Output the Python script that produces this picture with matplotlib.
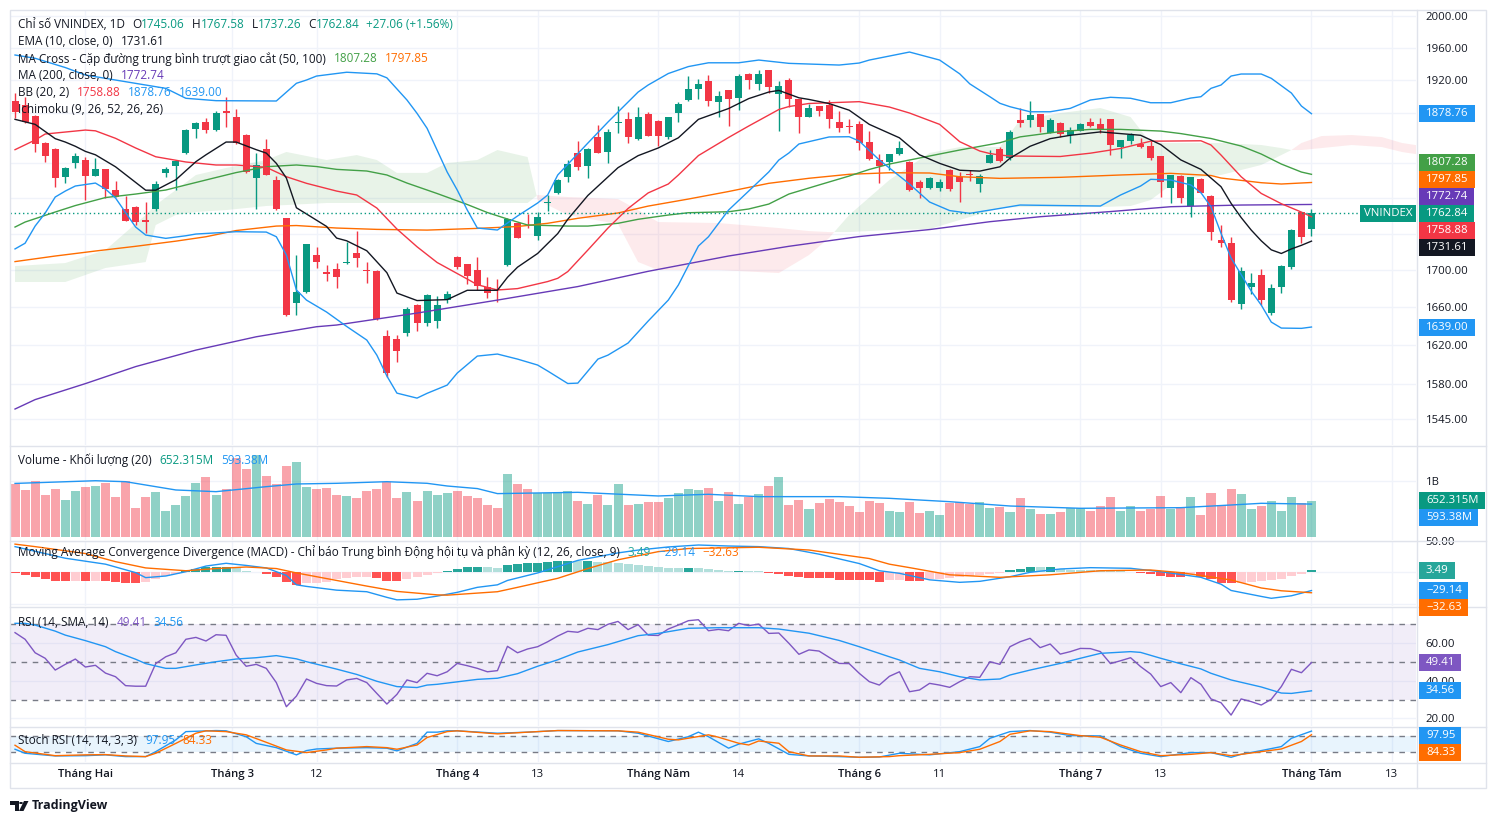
import numpy as np
import matplotlib
matplotlib.use("Agg")
import matplotlib.pyplot as plt
from matplotlib.patches import Rectangle, Polygon, Circle
from matplotlib.lines import Line2D
from matplotlib.ticker import NullLocator
from matplotlib.colors import to_rgba

plt.rcParams['font.family'] = ['Open Sans', 'DejaVu Sans']

W, H = 1496, 824

# ---------------- data ----------------
opens = [1894.4, 1889.2, 1876.0, 1844.2, 1836.8, 1804.1, 1820.7, 1823.9, 1805.6, 1813.4,
         1789.2, 1767.6, 1770.2, 1755.2, 1767.2, 1808.4, 1817.2, 1832.4, 1860.4, 1869.1,
         1859.2, 1882.0, 1875.1, 1853.3, 1802.6, 1836.8, 1800.7, 1757.1, 1664.0, 1675.8,
         1716.3, 1698.0, 1700.6, 1707.6, 1718.1, 1699.5, 1698.8, 1629.6, 1626.1, 1633.0,
         1662.2, 1643.5, 1645.6, 1667.5, 1714.4, 1706.4, 1699.9, 1681.1, 1679.3, 1705.3,
         1751.5, 1750.9, 1737.6, 1774.8, 1786.0, 1804.5, 1831.7, 1816.9, 1850.6, 1833.6,
         1868.0, 1872.0, 1848.6, 1878.4, 1870.0, 1850.6, 1880.0, 1895.3, 1908.5, 1918.4,
         1892.3, 1907.4, 1898.1, 1927.6, 1914.8, 1932.0, 1902.7, 1919.7, 1896.5, 1875.1,
         1888.0, 1889.2, 1869.1, 1863.5, 1866.4, 1845.4, 1823.9, 1821.2, 1830.9, 1821.9,
         1798.0, 1791.8, 1791.8, 1812.3, 1804.5, 1807.5, 1796.5, 1820.7, 1836.8, 1825.9,
         1871.2, 1871.2, 1878.4, 1856.0, 1867.2, 1853.3, 1858.3, 1868.4, 1866.4, 1872.4,
         1839.5, 1846.6, 1842.6, 1840.3, 1828.6, 1791.8, 1805.3, 1771.0, 1801.8, 1782.3,
         1732.8, 1729.1, 1663.3, 1681.8, 1694.4, 1653.4, 1681.8, 1703.5, 1763.8, 1745.06]
highs = [1903.8, 1898.6, 1877.0, 1845.0, 1838.0, 1815.5, 1832.1, 1827.7, 1825.9, 1814.0,
         1799.5, 1782.3, 1771.0, 1775.5, 1799.9, 1816.1, 1823.9, 1860.0, 1868.5, 1873.2,
         1882.0, 1899.3, 1884.4, 1854.0, 1832.1, 1848.3, 1805.3, 1758.0, 1716.3, 1729.0,
         1725.4, 1705.3, 1707.2, 1730.9, 1742.8, 1708.9, 1699.5, 1635.8, 1630.6, 1659.7,
         1663.0, 1673.5, 1672.1, 1677.2, 1715.5, 1707.0, 1713.7, 1692.6, 1690.1, 1757.0,
         1753.3, 1761.6, 1764.5, 1783.5, 1801.5, 1823.9, 1846.2, 1837.5, 1865.2, 1860.0,
         1888.0, 1880.4, 1886.5, 1880.4, 1871.0, 1875.0, 1892.5, 1924.6, 1920.9, 1925.9,
         1906.2, 1908.0, 1926.7, 1928.4, 1932.0, 1932.5, 1918.4, 1921.8, 1897.0, 1890.5,
         1888.5, 1895.3, 1882.0, 1872.4, 1870.0, 1858.0, 1830.6, 1831.0, 1846.2, 1822.5,
         1800.7, 1803.8, 1801.5, 1813.4, 1809.6, 1812.3, 1807.6, 1835.6, 1838.8, 1859.2,
         1885.2, 1894.1, 1879.0, 1873.2, 1868.4, 1862.5, 1867.2, 1873.2, 1873.2, 1873.0,
         1848.0, 1856.0, 1849.4, 1846.6, 1829.0, 1807.0, 1806.0, 1804.5, 1802.6, 1783.5,
         1749.5, 1736.6, 1703.5, 1696.9, 1700.9, 1684.7, 1705.3, 1745.1, 1764.5, 1767.58]
lows = [1873.6, 1867.3, 1833.6, 1821.9, 1793.0, 1797.6, 1814.6, 1777.8, 1805.0, 1780.4,
        1781.0, 1754.0, 1749.5, 1740.9, 1765.6, 1804.5, 1789.2, 1831.0, 1849.8, 1856.0,
        1858.4, 1863.2, 1843.0, 1808.4, 1767.6, 1806.0, 1767.0, 1650.5, 1651.6, 1675.0,
        1701.7, 1688.3, 1680.7, 1707.0, 1703.5, 1686.1, 1646.0, 1587.6, 1603.0, 1629.6,
        1635.1, 1640.3, 1638.2, 1664.0, 1700.6, 1684.7, 1678.3, 1670.0, 1665.7, 1704.0,
        1735.0, 1746.5, 1732.8, 1765.6, 1785.0, 1798.7, 1812.3, 1802.6, 1831.7, 1820.0,
        1855.3, 1843.5, 1848.0, 1852.0, 1840.3, 1848.3, 1869.1, 1894.5, 1896.5, 1888.4,
        1875.1, 1864.4, 1883.2, 1908.5, 1907.4, 1904.2, 1858.3, 1886.5, 1856.0, 1874.5,
        1876.3, 1861.3, 1857.2, 1856.0, 1835.6, 1823.9, 1797.6, 1812.3, 1829.7, 1788.5,
        1780.4, 1790.0, 1788.5, 1788.0, 1775.9, 1799.9, 1787.2, 1819.9, 1821.9, 1823.9,
        1862.5, 1862.5, 1857.2, 1855.5, 1850.6, 1844.2, 1857.5, 1862.5, 1856.0, 1829.7,
        1825.9, 1842.6, 1837.6, 1823.9, 1781.5, 1774.7, 1774.7, 1758.2, 1785.5, 1732.8,
        1725.4, 1665.0, 1657.9, 1674.0, 1662.2, 1651.6, 1675.4, 1700.9, 1729.1, 1737.26]
closes = [1881.1, 1869.1, 1842.6, 1828.9, 1803.0, 1814.6, 1828.9, 1805.6, 1813.4, 1790.3,
          1781.5, 1754.4, 1753.3, 1753.3, 1796.1, 1813.4, 1823.1, 1859.2, 1867.9, 1859.2,
          1880.0, 1879.2, 1844.2, 1810.3, 1818.1, 1806.4, 1767.2, 1651.6, 1676.4, 1728.4,
          1708.9, 1695.2, 1692.6, 1708.1, 1713.3, 1698.9, 1647.1, 1591.1, 1614.3, 1657.9,
          1643.5, 1672.9, 1662.2, 1673.6, 1702.8, 1693.4, 1682.6, 1674.7, 1678.7, 1756.0,
          1735.4, 1750.3, 1758.2, 1775.5, 1800.7, 1819.2, 1816.1, 1836.8, 1832.4, 1856.5,
          1868.8, 1851.3, 1874.4, 1852.5, 1852.5, 1874.4, 1890.5, 1908.1, 1914.8, 1894.4,
          1900.2, 1896.5, 1925.0, 1920.2, 1927.0, 1911.5, 1912.4, 1896.1, 1875.1, 1885.2,
          1882.0, 1872.4, 1862.0, 1862.8, 1843.5, 1825.0, 1816.9, 1830.6, 1837.6, 1789.2,
          1791.8, 1802.6, 1798.0, 1790.3, 1798.0, 1806.9, 1805.3, 1829.7, 1823.1, 1856.5,
          1867.9, 1877.2, 1862.5, 1871.2, 1854.1, 1859.2, 1866.4, 1864.4, 1860.0, 1841.5,
          1847.4, 1853.3, 1838.8, 1825.9, 1798.7, 1806.4, 1780.4, 1803.8, 1786.0, 1742.1,
          1729.8, 1667.5, 1698.8, 1686.1, 1667.5, 1680.1, 1704.2, 1743.9, 1735.78, 1762.84]

# volume in millions
volumes = [952, 845, 1005, 755, 863, 666, 827, 898, 916, 970, 720, 1005, 523, 720, 809,
           470, 577, 738, 970, 1077, 755, 863, 1416, 1220, 1470, 1095, 952, 1273, 1345, 898,
           863, 880, 755, 738, 702, 827, 863, 988, 702, 809, 648, 827, 755, 791,
           827, 738, 702, 577, 523, 1131, 952, 863, 791, 791, 809, 827, 648, 595, 755,
           577, 952, 577, 595, 630, 630, 702, 791, 863, 845, 880, 648, 809, 595, 720,
           773, 916, 1077, 577, 666, 505, 613, 684, 630, 559, 452, 648, 613, 470,
           452, 630, 434, 470, 398, 613, 630, 595, 630, 523, 541, 452, 702, 505, 416,
           416, 452, 523, 523, 470, 559, 720, 470, 559, 470, 505, 738, 505, 541, 720,
           398, 791, 577, 863, 773, 505, 559, 648, 470, 720, 613, 652.315]
vma_x = [0, 8, 11, 16, 20, 25, 28, 32, 37, 41, 43, 46, 48, 56, 64, 69, 74, 82, 87, 93,
         99, 106, 116, 121, 124, 129]
vma_y = [962, 1010, 993, 845, 815, 904, 952, 964, 993, 964, 916, 870, 780, 803, 738, 768,
         726, 726, 696, 636, 559, 518, 529, 577, 607, 593.38]

macd_hist = [-1.6, -4.3, -7.4, -10.6, -13.3, -13.5, -13.2, -13.6, -13.4, -13.8, -14.9, -16.5,
             -16.6, -14.9, -11.2, -5.9, -3.2, 2.1, 4.8, 8.0, 9.0, 9.1, 6.4, 2.7, 1.1, -2.7,
             -7.4, -14.9, -20.2, -16.5, -16.4, -14.9, -11.2, -8.5, -6.9, -6.8, -8.5, -13.3,
             -13.4, -10.1, -6.9, -4.3, -1.6, 2.1,
             5.3, 8.5, 8.6, 8.5, 6.9, 11.7, 13.3, 14.9, 15.0, 16.5, 18.1, 18.2, 18.0, 18.3,
             16.5, 16.4, 14.9, 13.3, 11.7, 10.1, 8.5, 6.9, 6.8, 6.9, 6.8, 5.3, 3.7, 2.1, 2.2,
             2.1, 2.0, -1.1, -2.7, -5.9, -7.4, -9.0, -9.1, -9.2, -12.2, -12.3, -12.4, -12.5,
             -15.4, -12.2,
             -12.0, -13.8, -14.0, -11.2, -11.0, -9.6, -6.9, -5.9, -4.3, -2.7, -1.1, 3.7, 5.3,
             8.5, 8.4, 8.6, 5.3, 3.7, 3.6, 3.5, 3.4, 2.1, 2.0, 0.5, -1.1, -2.7, -5.9, -7.4,
             -7.6, -4.3, -7.4, -10.6, -16.5, -17.0, -16.8, -15.4, -13.8, -12.2, -10.6, -5.9,
             -2.7, 3.49]
macd_x = [0, 5, 9, 12, 13, 15, 17, 19, 21, 23, 25, 27, 28, 29, 32, 35, 37, 38, 40, 42, 44,
          46, 48, 49, 52, 54, 56, 60, 62, 65, 68, 71, 74, 77, 80, 84, 86, 88, 91, 94, 96,
          99, 101, 104, 107, 111, 114, 118, 120, 121, 124, 125, 127, 129]
macd_y = [41, 22.5, 13, -0.5, -8.5, -5.9, 1, 10, 14.4, 11, 7, -5, -20, -22.5, -28.5, -31,
          -40, -44, -43, -38, -32, -24, -20, -13, -1, 9, 19, 31, 35.5, 40.5, 43.6, 42, 41,
          38, 29, 14, 2.5, -1.6, -12, -16, -14.4, -7, 0, 5.3, 7.4, 6.4, 1, -8, -19, -29,
          -38.5, -41.5, -37.5, -29.14]
sig_x = [0, 2, 7, 10, 13, 17, 20, 23, 26, 28, 32, 35, 38, 42, 43, 48, 50, 54, 57, 60, 64,
         67, 74, 79, 85, 87, 89, 93, 98, 103, 108, 113, 116, 121, 124, 126, 129]
sig_y = [45, 41, 30, 17, 7, 2.5, 6, 8.5, 6, -1, -13, -22, -30.5, -36, -36.5, -31, -24,
         -9.6, 6, 20, 33, 38, 40, 35.6, 22, 13, 7.5, -4, -8, -4, 2.5, 3.7, -0.5, -12.2, -25,
         -29.5, -32.63]

rsi = [65.2, 61.7, 54.6, 51.7, 45.5, 48.5, 51.3, 47.1, 48.0, 43.9, 42.0, 37.3, 37.0, 37.0,
       48.9, 52.5, 54.6, 61.7, 62.7, 60.8, 64.1, 63.8, 53.4, 47.5, 48.5, 46.4, 38.9, 26.2,
       31.8, 40.8, 38.5, 37.3, 37.1, 40.3, 41.1, 38.9, 33.2, 27.6, 32.7, 40.3, 38.9, 43.8,
       42.5, 44.6,
       49.0, 47.8, 46.4, 44.6, 45.2, 58.0, 54.6, 56.6, 57.8, 60.4, 63.4, 65.9, 65.4, 67.5,
       66.8, 69.6, 71.1, 66.8, 69.4, 63.9, 63.7, 67.1, 69.2, 71.5, 72.0, 66.2, 66.9, 66.2,
       70.1, 68.9, 69.7, 64.8, 65.0, 59.6, 53.8, 56.1, 55.5, 52.2, 49.0, 48.9, 43.8, 39.4,
       37.6, 42.2,
       44.6, 34.1, 35.0, 38.5, 37.6, 36.4, 39.4, 42.0, 41.7, 49.9, 48.5, 57.8, 60.4, 62.2,
       57.3, 59.2, 53.9, 55.2, 56.9, 56.8, 55.2, 48.9, 50.4, 52.0, 47.3, 43.4, 36.8, 38.9,
       33.6, 41.5, 38.0, 30.3, 28.3, 21.8, 30.3, 28.9, 27.1, 30.1, 36.8, 45.9, 44.1, 49.41]
rsima_x = [0, 1, 2, 4, 5, 7, 9, 10, 12, 13, 15, 16, 18, 20, 22, 24, 26, 28, 29, 32, 34, 36,
           38, 40, 41, 42, 46, 48, 50, 52, 54, 56, 59, 62, 64, 67, 70, 74, 76, 79, 82, 84,
           87, 88, 90, 92, 94, 96, 98, 99, 101, 104, 106, 108, 111, 112, 114, 116, 118, 119,
           121, 124, 126, 127, 129]
rsima_y = [70.1, 70.1, 69.2, 66.0, 63.9, 61.0, 57.8, 55.2, 51.2, 48.9, 46.4, 46.4, 48.2,
           49.9, 51.3, 52.0, 53.1, 51.4, 49.9, 46.0, 43.2, 39.6, 36.8, 36.3, 37.6, 38.0, 40.6,
           41.2, 43.6, 47.5, 50.9, 55.0, 58.9, 63.6, 64.8, 67.5, 67.8, 67.8, 67.1, 64.9, 61.1,
           57.8, 52.5, 50.8, 46.4, 44.6, 42.0, 40.3, 40.8, 42.9, 45.5, 49.0, 51.7, 54.3, 55.2,
           54.8, 51.7, 48.8, 46.1, 43.8, 40.3, 36.6, 33.4, 33.2, 34.56]

stk_x = [0, 1, 4, 7, 9, 11, 13, 14, 16, 17, 20, 21, 23, 24, 26, 28, 29, 30, 32, 35, 37, 38,
         40, 41, 42, 43, 44, 48, 51, 54, 60, 62, 65, 67, 68, 69, 71, 72, 74, 75, 77, 79, 82,
         84, 86, 88, 91, 94, 96, 97, 99, 101, 103, 105, 108, 110, 112, 114, 117, 119, 121,
         122, 124, 126, 127, 129]
stk_y = [30, 15, 5, 6, 9, 2.5, 2.5, 21, 65, 96, 100, 99, 77, 52, 36, 9, 25, 31, 34, 36, 34,
         24, 52, 94, 94, 99, 99, 90, 94, 100, 99, 90, 59, 77, 94, 77, 34, 49, 69, 52, 11, 5,
         2.5, 0, 1, 15, 9, 21, 40, 71, 96, 100, 94, 81, 80, 40, 15, 2.5, 17.5, 17.5, 0, 11,
         25, 40, 71, 97.95]
std_x = [0, 1, 4, 7, 9, 11, 13, 14, 16, 18, 19, 21, 23, 25, 27, 29, 31, 32, 35, 37, 38, 40,
         41, 43, 44, 48, 51, 54, 60, 62, 65, 66, 69, 70, 72, 73, 74, 76, 77, 79, 82, 84, 87,
         88, 91, 94, 96, 98, 99, 101, 103, 106, 108, 110, 112, 114, 117, 119, 121, 122, 124,
         126, 128, 129]
std_y = [45, 21, 6, 9, 10, 5, 2.5, 15, 52, 90, 99, 96, 84, 56, 27.5, 17.5, 27.5, 34, 40, 36,
         30, 46, 74, 96, 99, 87.5, 94, 100, 99, 94, 67.5, 65, 84, 75, 52.5, 46, 61, 52.5, 21,
         5, 5, 0, 2.5, 6, 11, 17.5, 30, 59, 86, 99, 96, 81, 75, 46, 21, 6, 11, 17.5, 6, 11,
         21, 31, 59, 84.33]

# overlays on the price pane
ema_x = [0, 2, 4, 5, 6, 7, 8, 10, 13, 14, 15, 16, 18, 19, 21, 22, 24, 25, 26, 27, 28, 29,
         31, 32, 33, 35, 37, 38, 40, 43, 45, 48, 49, 50, 52, 54, 55, 57, 60, 62, 64, 66, 68,
         71, 73, 75, 76, 78, 79, 81, 83, 85, 88, 90, 92, 94, 96, 98, 99, 101, 103, 105, 108,
         110, 112, 114, 116, 118, 120, 121, 122, 123, 124, 125, 126, 127, 128, 129]
ema_y = [1872, 1866, 1849, 1845, 1840, 1834, 1830, 1816, 1789, 1789, 1795, 1801, 1822, 1830,
         1845, 1845, 1836, 1832, 1820, 1803, 1769, 1762, 1748, 1735, 1732, 1721, 1697, 1675,
         1667, 1668, 1678, 1678, 1692, 1703, 1718, 1740, 1756, 1783, 1815, 1829, 1838, 1850,
         1872, 1885, 1897, 1905, 1907, 1898, 1896, 1891, 1883, 1866, 1850, 1830, 1820, 1812,
         1811, 1816, 1826, 1840, 1849, 1853, 1857, 1855, 1853, 1842, 1824, 1813, 1793, 1774,
         1758, 1744, 1732, 1722, 1718, 1723, 1727, 1731.61]
bb_mid_x = [0, 2, 3, 7, 8, 10, 12, 14, 17, 20, 22, 25, 27, 29, 32, 34, 36, 38, 40, 42, 45,
            46, 48, 50, 53, 54, 55, 57, 59, 61, 63, 65, 66, 68, 71, 73, 76, 77, 79, 84, 87,
            89, 92, 94, 96, 97, 98, 99, 104, 107, 110, 113, 118, 119, 120, 122, 124, 126,
            128, 129]
bb_mid_y = [1836, 1847.4, 1854.5, 1859.2, 1858.3, 1849.4, 1838.0, 1827.7, 1821.6, 1818.1,
            1818.1, 1815.4, 1804.5, 1796.9, 1788.0, 1783.5, 1768.7, 1745.1, 1725.4, 1708.1,
            1690.1, 1684, 1678.3, 1679.8, 1687.4, 1690.9, 1698.2, 1721.8, 1746.2, 1768.2,
            1785.9, 1796.1, 1806.4, 1829.1, 1850.4, 1864.0, 1883.8, 1887.4, 1891.1, 1893.3,
            1886.8, 1879.6, 1866.0, 1845.4, 1834.4, 1831.5, 1829.7, 1828.6, 1828.0, 1831.9,
            1837.4, 1846.0, 1846.5, 1841.5, 1829.7, 1804.5, 1785.3, 1773.6, 1764.1, 1758.88]
bb_up_x = [0, 2, 5, 7, 10, 15, 17, 20, 26, 28, 29, 30, 33, 36, 37, 39, 40, 41, 43, 44, 45,
           46, 48, 50, 52, 53, 54, 57, 59, 62, 63, 65, 67, 69, 72, 74, 77, 82, 84, 85, 89,
           92, 94, 95, 97, 98, 99, 101, 103, 105, 107, 109, 111, 113, 115, 117, 118, 119,
           120, 121, 122, 124, 125, 127, 128, 129]
bb_up_y = [1950.7, 1946.6, 1935.1, 1925.9, 1919.7, 1909.5, 1897.4, 1894.5, 1894.1, 1915.7,
           1919.7, 1924.6, 1929.3, 1927.3, 1922.4, 1895.3, 1879.2, 1861.3, 1809.9, 1789.2,
           1766.4, 1746.2, 1744.0, 1759.7, 1774.4, 1783.5, 1806.5, 1843.8, 1868.8, 1905.0,
           1913.6, 1927.7, 1936.3, 1941.0, 1941.0, 1944.4, 1940.3, 1938.2, 1940.7, 1944.4,
           1954.4, 1944.4, 1927.3, 1915.0, 1899.3, 1891.3, 1887.2, 1881.1, 1881.1, 1885.2,
           1895.3, 1898.6, 1897.4, 1892.0, 1892.0, 1897.7, 1899.3, 1909.5, 1913.6, 1924.6,
           1927.1, 1927.1, 1921.8, 1903.8, 1888.0, 1878.76]
bb_lo_x = [0, 1, 2, 3, 4, 5, 6, 7, 8, 9, 10, 12, 13, 15, 17, 18, 22, 25, 26, 27, 28, 29, 31,
           33, 35, 36, 37, 38, 40, 41, 43, 44, 46, 48, 50, 52, 53, 55, 56, 58, 59, 61, 63,
           65, 66, 68, 69, 71, 73, 75, 76, 77, 78, 81, 83, 84, 86, 87, 89, 91, 93, 95, 97,
           100, 104, 108, 110, 112, 113, 115, 117, 118, 119, 120, 121, 123, 124, 125, 126,
           128, 129]
bb_lo_y = [1723.0, 1729.3, 1748.4, 1763.0, 1781.2, 1788.0, 1793.8, 1795.5, 1797.2, 1790.3,
           1780.1, 1747.3, 1738.4, 1734.7, 1737.6, 1739.5, 1742.1, 1741.7, 1736.5, 1716.3,
           1678.3, 1667.5, 1654.8, 1639.6, 1625.4, 1609.8, 1588.4, 1571.1, 1566.1, 1570.9,
           1579.2, 1591.4, 1608.8, 1610.9, 1605.7, 1599.6, 1593.5, 1580.8, 1581.2, 1605.7,
           1609.8, 1622.3, 1645.3, 1667.5, 1683.6, 1726.2, 1736.5, 1766.4, 1788.0, 1810.0,
           1823.9, 1832.1, 1842.7, 1851.0, 1851.3, 1846.2, 1823.9, 1814.6, 1796.1, 1775.5,
           1765.8, 1762.7, 1766.4, 1772.1, 1771.5, 1771.0, 1783.5, 1793.8, 1801.5, 1800.7,
           1795.0, 1786.1, 1770.2, 1740.3, 1713.0, 1677.2, 1662.2, 1644.2, 1637.9, 1637.6,
           1639.0]
ma50_x = [0, 1, 4, 6, 9, 12, 15, 17, 20, 22, 25, 28, 30, 32, 35, 37, 39, 42, 45, 47, 49, 51,
          55, 57, 60, 62, 65, 67, 71, 73, 75, 77, 80, 83, 85, 87, 91, 94, 98, 100, 104, 107,
          110, 114, 116, 119, 122, 124, 126, 128, 129]
ma50_y = [1747.3, 1752.9, 1764.2, 1771.5, 1780.6, 1784.6, 1789.2, 1795.0, 1803.6, 1809.3,
          1816.1, 1818.1, 1816.3, 1813.0, 1811.1, 1806.5, 1797.2, 1785.2, 1772.7, 1763.6,
          1756.3, 1749.6, 1748.4, 1748.4, 1751.5, 1756.0, 1760.8, 1763.4, 1764.5, 1767.6,
          1773.2, 1784.6, 1795.0, 1805.3, 1812.9, 1819.2, 1828.6, 1835.6, 1844.2, 1851.1,
          1857.4, 1860.0, 1860.0, 1858.0, 1855.0, 1849.2, 1840.3, 1830.9, 1819.2, 1809.9,
          1807.28]
ma100_x = [0, 4, 8, 12, 16, 19, 22, 26, 28, 30, 32, 36, 41, 46, 50, 53, 56, 60, 63, 67, 71,
           75, 79, 83, 87, 91, 94, 98, 104, 110, 115, 119, 120, 124, 126, 129]
ma100_y = [1709.1, 1715.2, 1720.7, 1725.9, 1731.6, 1736.5, 1743.4, 1748.4, 1749.0, 1747.6,
           1746.2, 1744.7, 1743.9, 1745.8, 1747.9, 1751.5, 1757.1, 1763.1, 1770.9, 1778.9,
           1787.5, 1796.9, 1802.7, 1807.3, 1809.1, 1808.8, 1804.5, 1802.6, 1803.8, 1806.5,
           1808.4, 1805.9, 1803.0, 1797.6, 1796.1, 1797.85]
ma200_x = [0, 2, 7, 12, 18, 24, 30, 32, 40, 48, 56, 63, 71, 77, 84, 91, 97, 102, 109, 115,
           122, 129]
ma200_y = [1555.2, 1564.6, 1580.7, 1598.0, 1615.0, 1628.8, 1639.3, 1641.1, 1653.7, 1667.5,
           1682.0, 1698.5, 1715.2, 1725.9, 1736.7, 1744.5, 1753.3, 1758.9, 1764.7, 1770.2,
           1772.1, 1772.74]
cloud_x = [0, 5, 9, 13, 14, 16, 18, 21, 25, 27, 31, 34, 36, 38, 41, 43, 46, 48, 51, 52, 55,
           60, 62, 64, 70, 76, 79, 81, 83, 87, 91, 94, 98, 100, 104, 108, 111, 113, 115, 117,
           120, 124, 126, 127, 128, 130, 133, 136, 138, 140]
span_a = [1704.2, 1707.5, 1721.8, 1760.8, 1772.1, 1789.2, 1806.5, 1814.6, 1823.9, 1833.3,
          1823.9, 1829.7, 1823.9, 1808.9, 1808.9, 1820.4, 1823.9, 1835.6, 1827.4, 1777.8,
          1760.8, 1750.7, 1708.6, 1699.9, 1699.9, 1696.6, 1716.3, 1735.1, 1760.8, 1800.7,
          1832.1, 1839.1, 1839.1, 1871.2, 1879.6, 1885.6, 1874.8, 1843.9, 1843.9, 1843.9,
          1843.9, 1841.5, 1837.9, 1835.6, 1835.6, 1837.9, 1841.5, 1839.1, 1833.3, 1829.7]
span_b = [1686.9, 1686.9, 1702.1, 1708.6, 1749.6, 1760.8, 1764.2, 1766.4, 1771.0, 1772.1,
          1774.4, 1774.4, 1774.4, 1774.4, 1774.4, 1774.4, 1774.4, 1774.4, 1774.4, 1783.5,
          1781.2, 1778.9, 1766.4, 1752.9, 1751.8, 1746.2, 1742.8, 1741.7, 1741.7, 1744.0,
          1745.1, 1755.2, 1768.7, 1769.8, 1769.8, 1769.8, 1771.0, 1777.8, 1795.0, 1803.0,
          1806.5, 1818.1, 1829.7, 1835.6, 1843.9, 1852.1, 1853.3, 1850.9, 1843.9, 1840.3]

# price grid; only the levels not hidden behind value tags get a text label
price_ticks = [2000, 1960, 1920, 1880, 1820, 1780, 1740, 1700, 1660, 1620, 1580, 1545]
price_labelled = [2000, 1960, 1920, 1700, 1660, 1620, 1580, 1545]
time_ticks = [7, 21.6, 30, 44, 52, 64, 72, 84, 92, 106, 114, 129, 137]
time_labels = ['Tháng Hai', 'Tháng 3', '12', 'Tháng 4', '13', 'Tháng Năm', '14',
               'Tháng 6', '11', 'Tháng 7', '13', 'Tháng Tám', '13']

# ---------------- styling ----------------
TXT = '#131722'
UP = '#089981'
DOWN = '#F23645'
BLUE = '#2196F3'
ORANGE = '#FF6D00'
GREEN = '#43A047'
PURPLE = '#673AB7'
RSI_COL = '#7E57C2'
GRID = '#F0F3FA'
SEP = '#E0E3EB'
DASH = '#787B86'
FS = 8.2


def fx(x):
    return x / W


def fy(y):
    return 1 - y / H


fig = plt.figure(figsize=(W / 100, H / 100), dpi=100)
fig.patch.set_facecolor('white')
renderer = fig.canvas.get_renderer()


def pane(top, bottom):
    a = fig.add_axes([fx(10), fy(bottom), 1406 / W, (bottom - top) / H])
    for s in a.spines.values():
        s.set_visible(False)
    a.set_xlim(-0.5, 139.4)
    a.yaxis.tick_right()
    a.tick_params(axis='both', length=0, labelsize=FS, labelcolor=TXT)
    a.tick_params(axis='y', pad=7)
    a.set_xticks([])
    for p in time_ticks:
        a.axvline(p, color=GRID, lw=1, zorder=0)
    return a


ax = pane(10, 445)
axv = pane(446, 540)
axm = pane(541, 606)
axr = pane(607, 726)
axs = pane(727, 762)

n = len(closes)
idx = np.arange(n)
o = np.array(opens)
c = np.array(closes)
up = c >= o
cols = np.where(up, UP, DOWN)

# ---- price pane ----
ax.set_yscale('log')
ax.set_ylim(1519.8, 2007.7)
ax.yaxis.set_minor_locator(NullLocator())
ax.set_yticks(price_labelled)
ax.set_yticklabels([f'{v:.2f}' for v in price_labelled])
for v in price_ticks:
    ax.axhline(v, color=GRID, lw=1, zorder=0)

sa = np.array(span_a)
sb = np.array(span_b)
ax.fill_between(cloud_x, sa, sb, where=sa >= sb, interpolate=True,
                color=GREEN, alpha=0.12, lw=0, zorder=1)
ax.fill_between(cloud_x, sa, sb, where=sa < sb, interpolate=True,
                color=DOWN, alpha=0.1, lw=0, zorder=1)

ax.vlines(idx, lows, highs, colors=cols, lw=1, zorder=3)
body_lo = np.minimum(o, c)
body_h = np.maximum(np.abs(c - o), 0.9)
ax.bar(idx, body_h, bottom=body_lo, width=0.7, color=cols, lw=0, zorder=3)

ax.plot(ma200_x, ma200_y, color=PURPLE, lw=1, zorder=4)
ax.plot(ma100_x, ma100_y, color=ORANGE, lw=1, zorder=4)
ax.plot(ma50_x, ma50_y, color=GREEN, lw=1, zorder=4)
ax.plot(bb_up_x, bb_up_y, color=BLUE, lw=1, zorder=4)
ax.plot(bb_lo_x, bb_lo_y, color=BLUE, lw=1, zorder=4)
ax.plot(bb_mid_x, bb_mid_y, color=DOWN, lw=1, zorder=4)
ax.plot(ema_x, ema_y, color=TXT, lw=1, zorder=4)
ax.axhline(closes[-1], color=UP, lw=1, ls=(0, (1, 2)), zorder=4)

# ---- volume pane ----
axv.set_ylim(-48, 1630)
axv.set_yticks([1000])
axv.set_yticklabels(['1B'])
axv.axhline(1000, color=GRID, lw=1, zorder=0)
axv.bar(idx, volumes, width=0.9, color=[to_rgba(cc, 0.45) for cc in cols], lw=0, zorder=2)
axv.plot(vma_x, vma_y, color=BLUE, lw=1, zorder=3)

# ---- MACD pane ----
axm.set_ylim(-53.8, 50)
axm.set_yticks([50])
axm.set_yticklabels(['50.00'])
for v in (50, 0, -50):
    axm.axhline(v, color=GRID, lw=1, zorder=0)
hist_cols = []
prev = 0
for v in macd_hist:
    if v >= 0:
        hist_cols.append('#26A69A' if v >= prev else '#B2DFDB')
    else:
        hist_cols.append('#FFCDD2' if v > prev else '#FF5252')
    prev = v
axm.bar(idx, macd_hist, width=0.9, color=hist_cols, lw=0, zorder=2)
axm.plot(macd_x, macd_y, color=BLUE, lw=1, zorder=3)
axm.plot(sig_x, sig_y, color=ORANGE, lw=1, zorder=3)

# ---- RSI pane ----
axr.set_ylim(16.05, 78.7)
axr.set_yticks([60, 40, 20])
axr.set_yticklabels(['60.00', '40.00', '20.00'])
for v in (60, 40, 20):
    axr.axhline(v, color=GRID, lw=1, zorder=0)
axr.axhspan(30, 70, color=RSI_COL, alpha=0.1, lw=0, zorder=1)
for v in (70, 50, 30):
    axr.axhline(v, color=DASH, lw=1, ls=(0, (4, 4)), zorder=2)
axr.plot(idx, rsi, color=RSI_COL, lw=1, zorder=3)
axr.plot(rsima_x, rsima_y, color=BLUE, lw=1, zorder=3)

# ---- Stoch RSI pane ----
axs.set_ylim(-17.7, 113.3)
axs.set_yticks([])
axs.axhspan(20, 80, color=BLUE, alpha=0.1, lw=0, zorder=1)
for v in (80, 20):
    axs.axhline(v, color=DASH, lw=1, ls=(0, (4, 4)), zorder=2)
axs.plot(stk_x, stk_y, color=BLUE, lw=1, zorder=3)
axs.plot(std_x, std_y, color=ORANGE, lw=1, zorder=3)

axs.set_xticks(time_ticks)
axs.set_xticklabels(time_labels)
axs.tick_params(axis='x', pad=5)
for lbl in axs.get_xticklabels():
    if lbl.get_text().startswith('Tháng'):
        lbl.set_fontweight('semibold')

# ---- frame and separators ----
fig.add_artist(Rectangle((fx(10), fy(788)), 1476 / W, 778 / H, transform=fig.transFigure,
                         fill=False, edgecolor=SEP, lw=1, zorder=2))
for y in (445.5, 540.5, 606.5, 726.5, 762.5):
    fig.add_artist(Line2D([fx(10), fx(1486)], [fy(y), fy(y)], color=SEP, lw=1, zorder=2))
fig.add_artist(Line2D([fx(1416.5), fx(1416.5)], [fy(10), fy(788)], color=SEP, lw=1, zorder=2))


# ---- legends ----
def rich_line(x, y, parts, size=8.5):
    for s, col, gap in parts:
        t = fig.text(fx(x), fy(y), s, color=col, fontsize=size, va='center', ha='left', zorder=7)
        x = t.get_window_extent(renderer).x1 + gap


def fmt(v):
    return f'{v:.2f}'.replace('-', '\u2212')


chg = closes[-1] - closes[-2]
rich_line(18, 24.5, [('Chỉ số VNINDEX, 1D', TXT, 7), ('O', TXT, 0), (fmt(opens[-1]), UP, 7),
                     ('H', TXT, 0), (fmt(highs[-1]), UP, 7), ('L', TXT, 0), (fmt(lows[-1]), UP, 7),
                     ('C', TXT, 0), (fmt(closes[-1]), UP, 7),
                     (f'+{chg:.2f} (+{chg / closes[-2] * 100:.2f}%)', UP, 0)])
rich_line(18, 41.5, [('EMA (10, close, 0)', TXT, 8), (fmt(ema_y[-1]), TXT, 0)])
rich_line(18, 58.5, [('MA Cross - Cặp đường trung bình trượt giao cắt (50, 100)', TXT, 8),
                     (fmt(ma50_y[-1]), GREEN, 7), (fmt(ma100_y[-1]), ORANGE, 0)])
rich_line(18, 75.5, [('MA (200, close, 0)', TXT, 8), (fmt(ma200_y[-1]), PURPLE, 0)])
rich_line(18, 92.5, [('BB (20, 2)', TXT, 8), (fmt(bb_mid_y[-1]), DOWN, 7),
                     (fmt(bb_up_y[-1]), BLUE, 7), (fmt(bb_lo_y[-1]), BLUE, 0)])
rich_line(18, 109.5, [('Ichimoku (9, 26, 52, 26, 26)', TXT, 0)])


def vol_fmt(v):
    return f'{v:.3f}'.rstrip('0').rstrip('.') + 'M'


rich_line(18, 460.5, [('Volume - Khối lượng (20)', TXT, 8), (vol_fmt(volumes[-1]), UP, 7),
                      (vol_fmt(vma_y[-1]), BLUE, 0)])
rich_line(18, 552.5, [('Moving Average Convergence Divergence (MACD) - Chỉ báo Trung bình Động '
                       'hội tụ và phân kỳ (12, 26, close, 9)', TXT, 8),
                      (fmt(macd_hist[-1]), '#26A69A', 7), (fmt(macd_y[-1]), BLUE, 7),
                      (fmt(sig_y[-1]), ORANGE, 0)])
rich_line(18, 622.5, [('RSI (14, SMA, 14)', TXT, 8), (fmt(rsi[-1]), RSI_COL, 7),
                      (fmt(rsima_y[-1]), BLUE, 0)])
rich_line(18, 741, [('Stoch RSI (14, 14, 3, 3)', TXT, 8), (fmt(stk_y[-1]), BLUE, 7),
                    (fmt(std_y[-1]), ORANGE, 0)])


# ---- right-hand value tags ----
def value_px(a, v):
    return H - a.transData.transform((0, v))[1]


def price_tag(y, s, col):
    t = fig.text(fx(1426), fy(y), s, color='white', fontsize=FS, va='center', ha='left',
                 zorder=6)
    x1 = t.get_window_extent(renderer).x1
    fig.add_artist(Rectangle((fx(1419), fy(y + 8.5)), (x1 + 6 - 1419) / W, 17 / H,
                             transform=fig.transFigure, facecolor=col, edgecolor='none',
                             zorder=5))


def tags(a, items, top_px):
    ys = [value_px(a, v) for v, _, _ in items]
    pos = [0.0] * len(items)
    pos[0] = max(ys[0], top_px + 8.5)
    ups = sorted([i for i in range(1, len(items)) if ys[i] < ys[0]], key=lambda i: -ys[i])
    dns = sorted([i for i in range(1, len(items)) if ys[i] >= ys[0]], key=lambda i: ys[i])
    last = pos[0]
    for i in ups:
        pos[i] = min(ys[i], last - 17)
        last = pos[i]
    last = pos[0]
    for i in dns:
        pos[i] = max(ys[i], last + 17)
        last = pos[i]
    for (v, s, col), y in zip(items, pos):
        price_tag(y, s, col)
    return pos[0]


last_y = tags(ax, [(closes[-1], fmt(closes[-1]), UP), (bb_up_y[-1], fmt(bb_up_y[-1]), BLUE),
                   (ma50_y[-1], fmt(ma50_y[-1]), GREEN), (ma100_y[-1], fmt(ma100_y[-1]), ORANGE),
                   (ma200_y[-1], fmt(ma200_y[-1]), PURPLE), (bb_mid_y[-1], fmt(bb_mid_y[-1]), DOWN),
                   (ema_y[-1], fmt(ema_y[-1]), TXT), (bb_lo_y[-1], fmt(bb_lo_y[-1]), BLUE)], 10)
t = fig.text(fx(1412), fy(last_y), 'VNINDEX', color='white', fontsize=FS, va='center',
             ha='right', zorder=6)
x0 = t.get_window_extent(renderer).x0
fig.add_artist(Rectangle((fx(x0 - 4), fy(last_y + 8.5)), (1416 - x0 + 4) / W, 17 / H,
                         transform=fig.transFigure, facecolor=UP, edgecolor='none', zorder=5))

tags(axv, [(volumes[-1], vol_fmt(volumes[-1]), UP), (vma_y[-1], vol_fmt(vma_y[-1]), BLUE)], 446)
tags(axm, [(macd_hist[-1], fmt(macd_hist[-1]), '#26A69A'), (macd_y[-1], fmt(macd_y[-1]), BLUE),
           (sig_y[-1], fmt(sig_y[-1]), ORANGE)], 541)
tags(axr, [(rsi[-1], fmt(rsi[-1]), RSI_COL), (rsima_y[-1], fmt(rsima_y[-1]), BLUE)], 607)
tags(axs, [(stk_y[-1], fmt(stk_y[-1]), BLUE), (std_y[-1], fmt(std_y[-1]), ORANGE)], 727)


# ---- TradingView mark ----
def px_poly(pts, **kw):
    fig.add_artist(Polygon([(fx(x), fy(y)) for x, y in pts], closed=True,
                           transform=fig.transFigure, **kw))


px_poly([(10, 801), (18.5, 801), (18.5, 811), (14.5, 811), (14.5, 804.5), (10, 804.5)],
        facecolor=TXT, edgecolor='none', zorder=5)
fig.add_artist(Circle((fx(21), fy(803)), 1.9 / W, transform=fig.transFigure,
                      facecolor=TXT, edgecolor='none', zorder=5))
px_poly([(19, 811), (24, 801), (28.5, 801), (23.5, 811)], facecolor=TXT, edgecolor='none',
        zorder=5)
fig.text(fx(32), fy(806), 'TradingView', color=TXT, fontsize=9, fontweight='bold',
         va='center', ha='left')

fig.savefig('out.png', dpi=100, facecolor='white')
